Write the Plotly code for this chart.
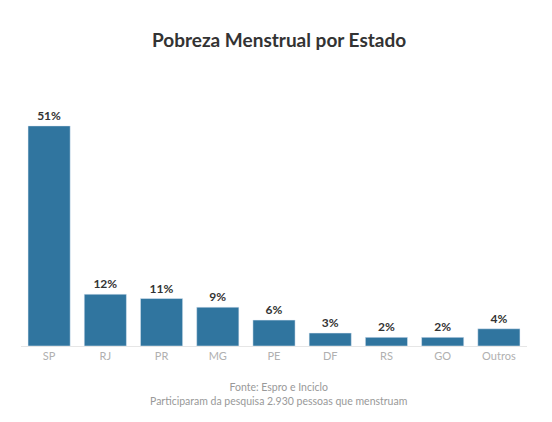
import plotly.graph_objects as go

estados = ["SP", "RJ", "PR", "MG", "PE", "DF", "RS", "GO", "Outros"]
percentuais = [51, 12, 11, 9, 6, 3, 2, 2, 4]
rotulos = [f"{v}%" for v in percentuais]

fig = go.Figure()
fig.add_trace(go.Bar(
    x=estados, y=percentuais, text=rotulos,
    textposition="outside", cliponaxis=False,
    textfont=dict(family="Lato", size=12, color="#333333", weight="bold"),
    marker=dict(color="#30759f"),
    hoverinfo="x+y",
))

# a página tem margem de 8px no body, por isso os valores compensam
fig.update_layout(
    width=552, height=422,
    margin=dict(l=13, r=33, t=92, b=84),
    paper_bgcolor="white", plot_bgcolor="white",
    bargap=0.25,
    showlegend=False,
    title=dict(text="<b>Pobreza Menstrual por Estado</b>", x=0.491, y=0.924,
               xref="container", xanchor="center", yanchor="middle",
               font=dict(family="Lato", size=19, color="#333333")),
    xaxis=dict(showgrid=False, showline=True, linecolor="#e6e6e6", linewidth=1,
               ticks="", tickfont=dict(family="Lato", size=11, color="#b0b0b0")),
    yaxis=dict(visible=False, range=[0, 57]),
    font=dict(family="Lato"),
)

fig.add_annotation(text="Fonte: Espro e Inciclo<br>Participaram da pesquisa 2.930 pessoas que menstruam",
                   xref="paper", yref="paper", x=0.508, y=-0.136, xanchor="center", yanchor="top",
                   showarrow=False, align="center",
                   font=dict(family="Lato", size=10.5, color="#999999"))

fig.write_html("out.html")
